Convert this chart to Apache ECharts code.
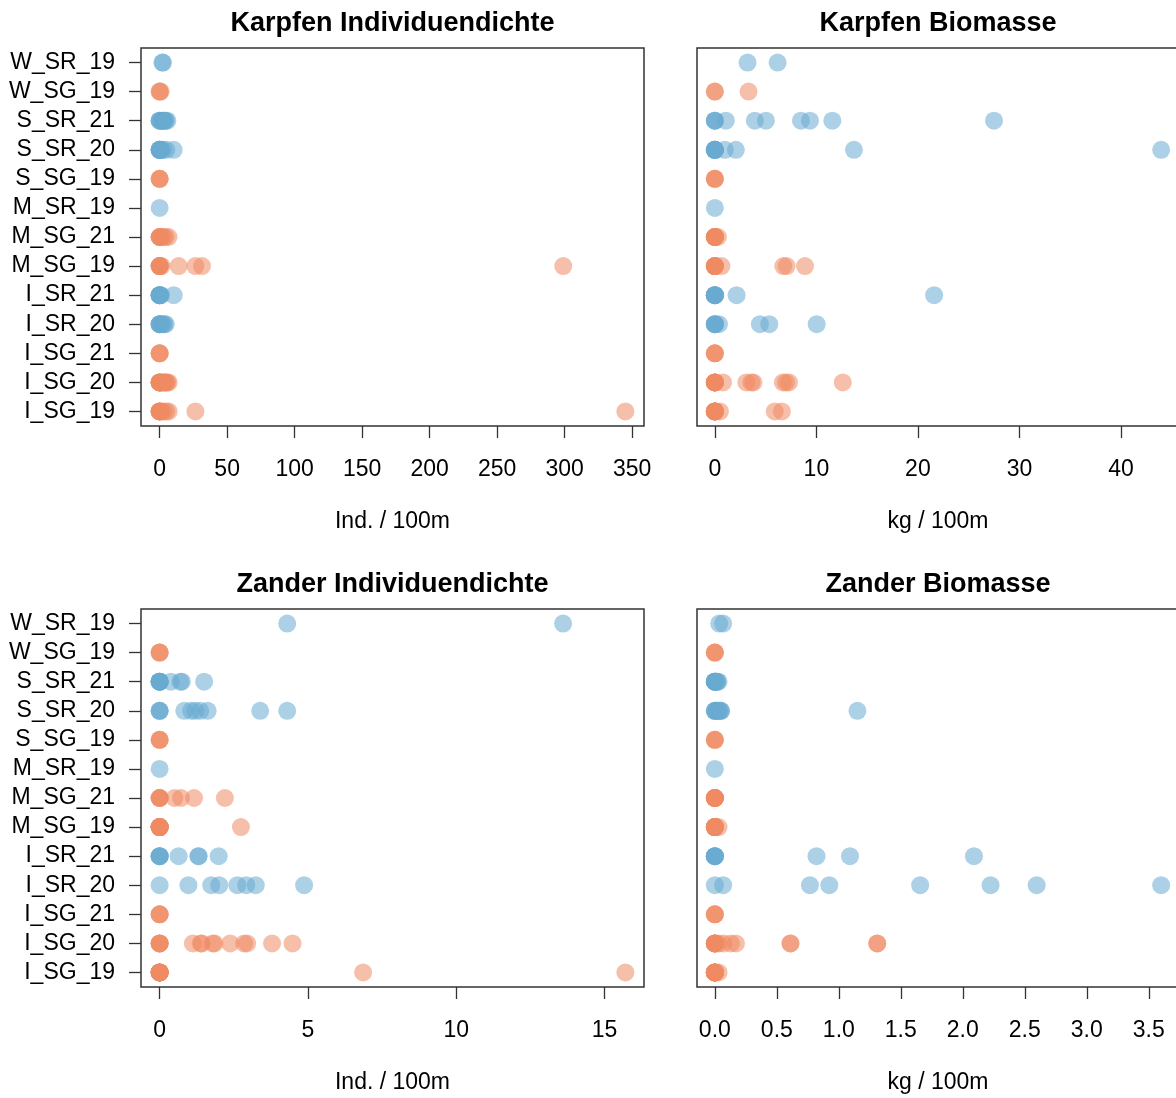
<!DOCTYPE html>
<html><head><meta charset="utf-8">
<script src="https://cdn.jsdelivr.net/npm/echarts@6/dist/echarts.min.js"></script>
<style>html,body{margin:0;padding:0;background:#fff}#c{width:1176px;height:1098px}</style>
</head><body><div id="c"></div>
<script>
// groups, bottom to top (R factor order)
const groups = ['I_SG_19','I_SG_20','I_SG_21','I_SR_20','I_SR_21','M_SG_19','M_SG_21','M_SR_19','S_SG_19','S_SR_20','S_SR_21','W_SG_19','W_SR_19'];

// values per group (same order as groups)
const karpfenInd = [
  [0,0,0,0,0,1.5,3.0,5.0,6.7,26.5,345],
  [0,0,0,0,0,0,1.0,2.0,3.0,3.5,4.0,5.0,5.7,6.7],
  [0,0,0],
  [0,0,0,0,1.5,2.5,3.5,4.5],
  [0,0,0,0,0,0,1.0,10.4],
  [0,0,0,0,0,1.5,14.1,26.5,31.4,299],
  [0,0,0,0,1.5,3.0,4.5,6.6],
  [0],
  [0,0,0],
  [0,0,0,0,0,0,1.2,2.5,5.0,10.4],
  [0,0,0,1.3,2.0,2.6,3.3,3.9,4.6,5.7],
  [0,0,0.8],
  [2.0,2.5]
];
const karpfenBio = [
  [0,0,0,0,0,0,0,0,0.5,5.9,6.6],
  [0,0,0,0,0,0,0.8,3.1,3.6,3.8,6.7,7.0,7.3,12.6],
  [0,0,0],
  [0,0,0,0,0.4,4.44,5.36,10.03],
  [0,0,0,0,0,0,2.14,21.6],
  [0,0,0,0,0,0,0.65,6.74,7.07,8.88],
  [0,0,0,0,0,0,0,0.3],
  [0],
  [0,0,0],
  [0,0,0,0,0,0,0.99,2.07,13.7,43.96],
  [0,0,0,1.08,3.94,5.03,8.48,9.37,11.57,27.5],
  [0,0,3.32],
  [3.22,6.18]
];
const zanderInd = [
  [0,0,0,0,0,0,0,0,0,6.86,15.7],
  [0,0,0,0,1.12,1.39,1.42,1.79,1.85,2.38,2.85,2.95,3.79,4.48],
  [0,0,0],
  [0,0.97,1.74,2.01,2.62,2.92,3.24,4.87],
  [0,0,0,0,0.64,1.31,1.31,1.99],
  [0,0,0,0,0,0,0,0,0,2.74],
  [0,0,0,0,0.5,0.72,1.16,2.2],
  [0],
  [0,0,0],
  [0,0,0,0.83,1.06,1.2,1.37,1.62,3.39,4.30],
  [0,0,0,0,0,0,0.38,0.70,0.75,1.50],
  [0,0,0],
  [4.30,13.6]
];
const zanderBio = [
  [0,0,0,0,0,0,0,0,0,0,0.03],
  [0,0,0,0,0,0,0.03,0.07,0.13,0.17,0.61,0.61,1.31,1.31],
  [0,0,0],
  [0,0.067,0.767,0.923,1.656,2.224,2.596,3.60],
  [0,0,0,0,0,0.82,1.09,2.09],
  [0,0,0,0,0,0,0,0,0,0.03],
  [0,0,0,0,0,0,0,0],
  [0],
  [0,0,0],
  [0,0,0,0.01,0.02,0.03,0.04,0.05,0.05,1.15],
  [0,0,0,0,0,0,0.01,0.015,0.02,0.03],
  [0,0,0],
  [0.035,0.067]
];

const titles = ['Karpfen Individuendichte','Karpfen Biomasse','Zander Individuendichte','Zander Biomasse'];
const xLabels = ['Ind. / 100m','kg / 100m','Ind. / 100m','kg / 100m'];
const ticksKI = [0,50,100,150,200,250,300,350];
const ticksKB = [0,10,20,30,40];
const ticksZI = [0,5,10,15];
const ticksZB = [0,0.5,1.0,1.5,2.0,2.5,3.0,3.5];

const COL_SR = '#67a9cf', COL_SG = '#ef8a62';
const FONT = '"Liberation Sans", Arial, sans-serif';

const panels = [
  {data: karpfenInd, ticks: ticksKI, dec: 0, left: 141, top: 48, width: 503, ylab: true},
  {data: karpfenBio, ticks: ticksKB, dec: 0, left: 697, top: 48, width: 482, ylab: false},
  {data: zanderInd, ticks: ticksZI, dec: 0, left: 141, top: 609, width: 503, ylab: true},
  {data: zanderBio, ticks: ticksZB, dec: 1, left: 697, top: 609, width: 482, ylab: false}
];
const H = 378;

const option = {
  animation: false,
  backgroundColor: '#fff',
  title: panels.map((p, i) => ({
    text: titles[i], left: p.left + p.width / 2, top: p.top - 38, textAlign: 'center', padding: 0,
    textStyle: {fontSize: 27, fontWeight: 'bold', fontFamily: FONT, color: '#000', lineHeight: 27}
  })),
  grid: panels.map(p => ({
    left: p.left, top: p.top, width: p.width, height: H, show: true,
    borderColor: '#333', borderWidth: 1.5, backgroundColor: 'transparent',
    containLabel: false, outerBoundsMode: 'none'
  })),
  xAxis: panels.map((p, i) => {
    let lo = Infinity, hi = -Infinity;
    p.data.forEach(a => a.forEach(v => { lo = Math.min(lo, v); hi = Math.max(hi, v); }));
    const ext = (hi - lo) * 0.04;
    return {
      type: 'value', gridIndex: i, min: lo - ext, max: hi + ext,
      name: xLabels[i], nameLocation: 'middle', nameGap: 84,
      nameTextStyle: {fontSize: 23, fontFamily: FONT, color: '#000', lineHeight: 23},
      splitLine: {show: false},
      axisLine: {show: false, onZero: false},
      axisTick: {show: true, inside: false, length: 12, customValues: p.ticks, lineStyle: {color: '#333', width: 1.3}},
      axisLabel: {customValues: p.ticks, margin: 32, fontSize: 23, fontFamily: FONT, color: '#000', lineHeight: 23,
        formatter: v => Number(v).toFixed(p.dec)}
    };
  }),
  yAxis: panels.map((p, i) => ({
    type: 'category', gridIndex: i, data: groups, boundaryGap: true,
    splitLine: {show: false},
    axisLine: {show: false, onZero: false},
    axisTick: {show: p.ylab, alignWithLabel: true, length: 12, interval: 0, lineStyle: {color: '#333', width: 1.3}},
    axisLabel: {show: p.ylab, interval: 0, margin: 26, fontSize: 23, fontFamily: FONT, color: '#000'}
  })),
  series: panels.map((p, i) => {
    const pts = [];
    p.data.forEach((arr, gi) => {
      const col = groups[gi].indexOf('SR') >= 0 ? COL_SR : COL_SG;
      arr.forEach(v => pts.push({value: [v, gi], itemStyle: {color: col}}));
    });
    return {
      type: 'scatter', xAxisIndex: i, yAxisIndex: i, data: pts,
      symbol: 'circle', symbolSize: 18,
      itemStyle: {opacity: 0.55, borderWidth: 0},
      emphasis: {disabled: true}, silent: true
    };
  })
};

const chart = echarts.init(document.getElementById('c'), null, {renderer: 'canvas'});
chart.setOption(option);
</script>
</body></html>
